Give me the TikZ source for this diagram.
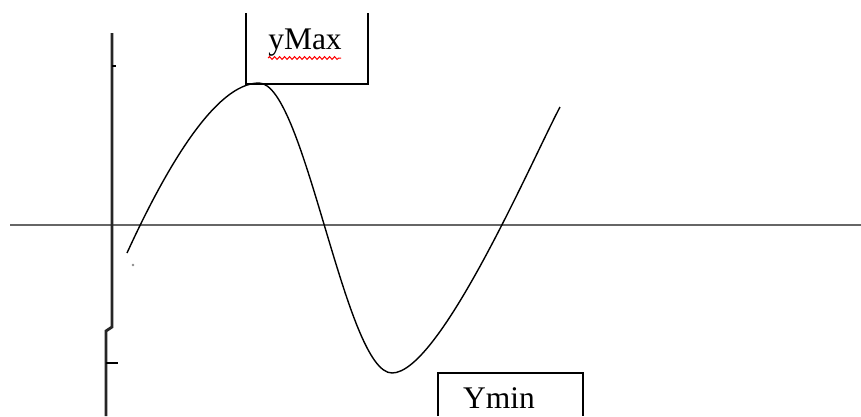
\documentclass[tikz,border=0pt]{standalone}
\usepackage{fontspec}
\setmainfont{Liberation Serif}
\usetikzlibrary{positioning,decorations.pathmorphing}
\tikzset{
  axisline/.style={line width=2.4pt,black!75},
  curveline/.style={line width=1.4pt,black},
  boxline/.style={line width=1.8pt,black},
  labeltext/.style={font=\fontsize{31.5}{34}\selectfont,inner sep=0pt}
}

\begin{document}
\begin{tikzpicture}[x=1pt,y=-1pt]
\useasboundingbox[fill=white] (0,0) rectangle (861,416);
% Axes
\draw[axisline,black!60] (10,225) -- (861,225);
\draw[axisline,line width=2.8pt,black!85] (112,33) -- (112,327) -- (106,331) -- (106,416);
\draw[line width=2.4pt] (112,66) -- (116,66);
\draw[line width=2pt] (106,363) -- (118,363);
% Cubic sketch
\draw[curveline] (127,253) .. controls (165,170) and (215,83) .. (259,83)
  .. controls (305,83) and (345,373) .. (392,373)
  .. controls (440,373) and (532,160) .. (560,107);
\fill[black!45] (133,265) circle (1.4pt);
% Maximum label
\node[labeltext,anchor=base] (ymax) at (305,49) {yMax};
\draw[boxline] (246,13) -- (246,84) -- (368,84) -- (368,13);
\draw[red,line width=1pt,decorate,
  decoration={snake,segment length=5pt,amplitude=1.4pt}]
  (268,58) -- (341,58);
% Minimum label
\node[labeltext,anchor=base] (ymin) at (499,408) {Ymin};
\draw[boxline] (438,416) -- (438,373) -- (583,373) -- (583,416);
\end{tikzpicture}
\end{document}
